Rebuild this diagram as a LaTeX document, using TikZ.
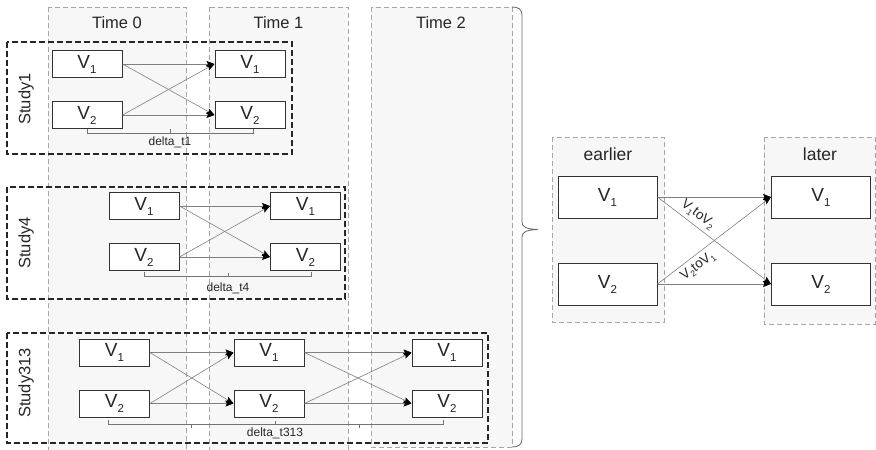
\documentclass[tikz,border=0pt]{standalone}
\usepackage{fontspec}
\setmainfont{Liberation Sans}
\usetikzlibrary{arrows.meta}
\newcommand\Vsub[1]{V\raisebox{-5pt}{\fontsize{11.5}{11.5}\selectfont #1}}
\newcommand\Vsm[1]{V\raisebox{-3pt}{\fontsize{8.5}{8.5}\selectfont #1}}
\begin{document}
\begin{tikzpicture}[x=1pt,y=-1pt,
 col/.style={draw=black!35, dash pattern=on 5pt off 3pt, fill=black!3, line width=0.8pt},
 study/.style={draw=black!85, dash pattern=on 6pt off 3pt, line width=1.1pt},
 var/.style={draw=black!80, fill=white, line width=1pt, minimum width=70pt, minimum height=27pt, inner sep=0pt, font=\fontsize{19}{19}\selectfont, text=black!85},
 bigvar/.style={var, minimum width=99pt, minimum height=42pt},
 arr/.style={draw=black!50, line width=0.6pt, -{Stealth[length=8pt,width=6pt,inset=1.5pt,black]}},
 lab/.style={font=\fontsize{16.5}{16.5}\selectfont, text=black!85},
 biglab/.style={font=\fontsize{17.5}{17.5}\selectfont, text=black!85},
 dlab/.style={font=\fontsize{12}{12}\selectfont, text=black!85},
 elab/.style={font=\fontsize{13.5}{13.5}\selectfont, text=black!85, inner sep=4pt, sloped, pos=0.3},
 brk/.style={draw=black!55, line width=0.6pt}
]
\useasboundingbox (0,0) rectangle (876,450);
% time columns
\path[col] (48,7) rectangle (186,455);
\path[col] (209,7) rectangle (348,455);
\path[col] (371,7) rectangle (512,447);
\node[lab] (t0) at (117,23) {Time 0};
\node[lab] (t1) at (278.5,23) {Time 1};
\node[lab] (t2) at (441,23) {Time 2};
% brace
\coordinate (bt) at (512,7);
\coordinate (bb) at (512,447);
\coordinate (btip) at (538,229.5);
\draw[black!60, line width=0.8pt] (bt) .. controls (518,7) and (522,9) .. (522,15) -- (522,222)
  .. controls (522,227) and (526,229) .. (btip) .. controls (526,230) and (522,232) .. (522,237)
  -- (522,439) .. controls (522,445) and (518,447) .. (bb);
% study boxes
\draw[study] (7,42) rectangle (292,154);
\draw[study] (7,187) rectangle (345,299);
\draw[study] (7,333) rectangle (488,443);
\node[lab, rotate=90] (st1) at (26,99) {Study1};
\node[lab, rotate=90] (st4) at (26,243) {Study4};
\node[lab, rotate=90] (st313) at (26,383) {Study313};
% Study1
\node[var] (a1) at (87,64) {\Vsub{1}};
\node[var] (a2) at (87,115) {\Vsub{2}};
\node[var] (b1) at (250,64) {\Vsub{1}};
\node[var] (b2) at (250,115) {\Vsub{2}};
\draw[arr] (a1.east) -- (b1.west);
\draw[arr] (a1.east) -- (b2.west);
\draw[arr] (a2.east) -- (b1.west);
\draw[arr] (a2.east) -- (b2.west);
\draw[brk] (87,128.5) -- (87,133) -- (253,133) -- (253,128.5) (170,133) -- (170,129);
\node[dlab] (d1) at (170,142) {delta\_t1};
% Study4
\node[var] (c1) at (144,206) {\Vsub{1}};
\node[var] (c2) at (144,257) {\Vsub{2}};
\node[var] (e1) at (305.5,206) {\Vsub{1}};
\node[var] (e2) at (305.5,257) {\Vsub{2}};
\draw[arr] (c1.east) -- (e1.west);
\draw[arr] (c1.east) -- (e2.west);
\draw[arr] (c2.east) -- (e1.west);
\draw[arr] (c2.east) -- (e2.west);
\draw[brk] (144,272) -- (144,276.5) -- (311,276.5) -- (311,272) (228,276.5) -- (228,272.5);
\node[dlab] (d4) at (228,288) {delta\_t4};
% Study313
\node[var] (f1) at (114.5,352.5) {\Vsub{1}};
\node[var] (f2) at (114.5,403.5) {\Vsub{2}};
\node[var] (g1) at (269,352.5) {\Vsub{1}};
\node[var] (g2) at (269,403.5) {\Vsub{2}};
\node[var] (h1) at (447,352.5) {\Vsub{1}};
\node[var] (h2) at (447,403.5) {\Vsub{2}};
\draw[arr] (f1.east) -- (g1.west);
\draw[arr] (f1.east) -- (g2.west);
\draw[arr] (f2.east) -- (g1.west);
\draw[arr] (f2.east) -- (g2.west);
\draw[arr] (g1.east) -- (h1.west);
\draw[arr] (g1.east) -- (h2.west);
\draw[arr] (g2.east) -- (h1.west);
\draw[arr] (g2.east) -- (h2.west);
\draw[brk] (108,420) -- (108,424) -- (443,424) -- (443,420)
  (275,424) -- (275,420.5) (191,424) -- (191,427.5) (359,424) -- (359,427.5);
\node[dlab] (d313) at (275,433) {delta\_t313};
% right panel
\path[col] (552,137) rectangle (664,322);
\path[col] (764,137) rectangle (875,324);
\node[biglab] (ear) at (608,154) {earlier};
\node[biglab] (lat) at (820,154) {later};
\node[bigvar] (p1) at (607.5,197) {\Vsub{1}};
\node[bigvar] (p2) at (607.5,284) {\Vsub{2}};
\node[bigvar] (q1) at (821,197) {\Vsub{1}};
\node[bigvar] (q2) at (821,284) {\Vsub{2}};
\draw[arr] (p1.east) -- (q1.west);
\draw[arr] (p1.east) -- node[elab, above] {\Vsm{1}to\Vsm{2}} (q2.west);
\draw[arr] (p2.east) -- node[elab, below] {\Vsm{2}to\Vsm{1}} (q1.west);
\draw[arr] (p2.east) -- (q2.west);
\end{tikzpicture}
\end{document}
